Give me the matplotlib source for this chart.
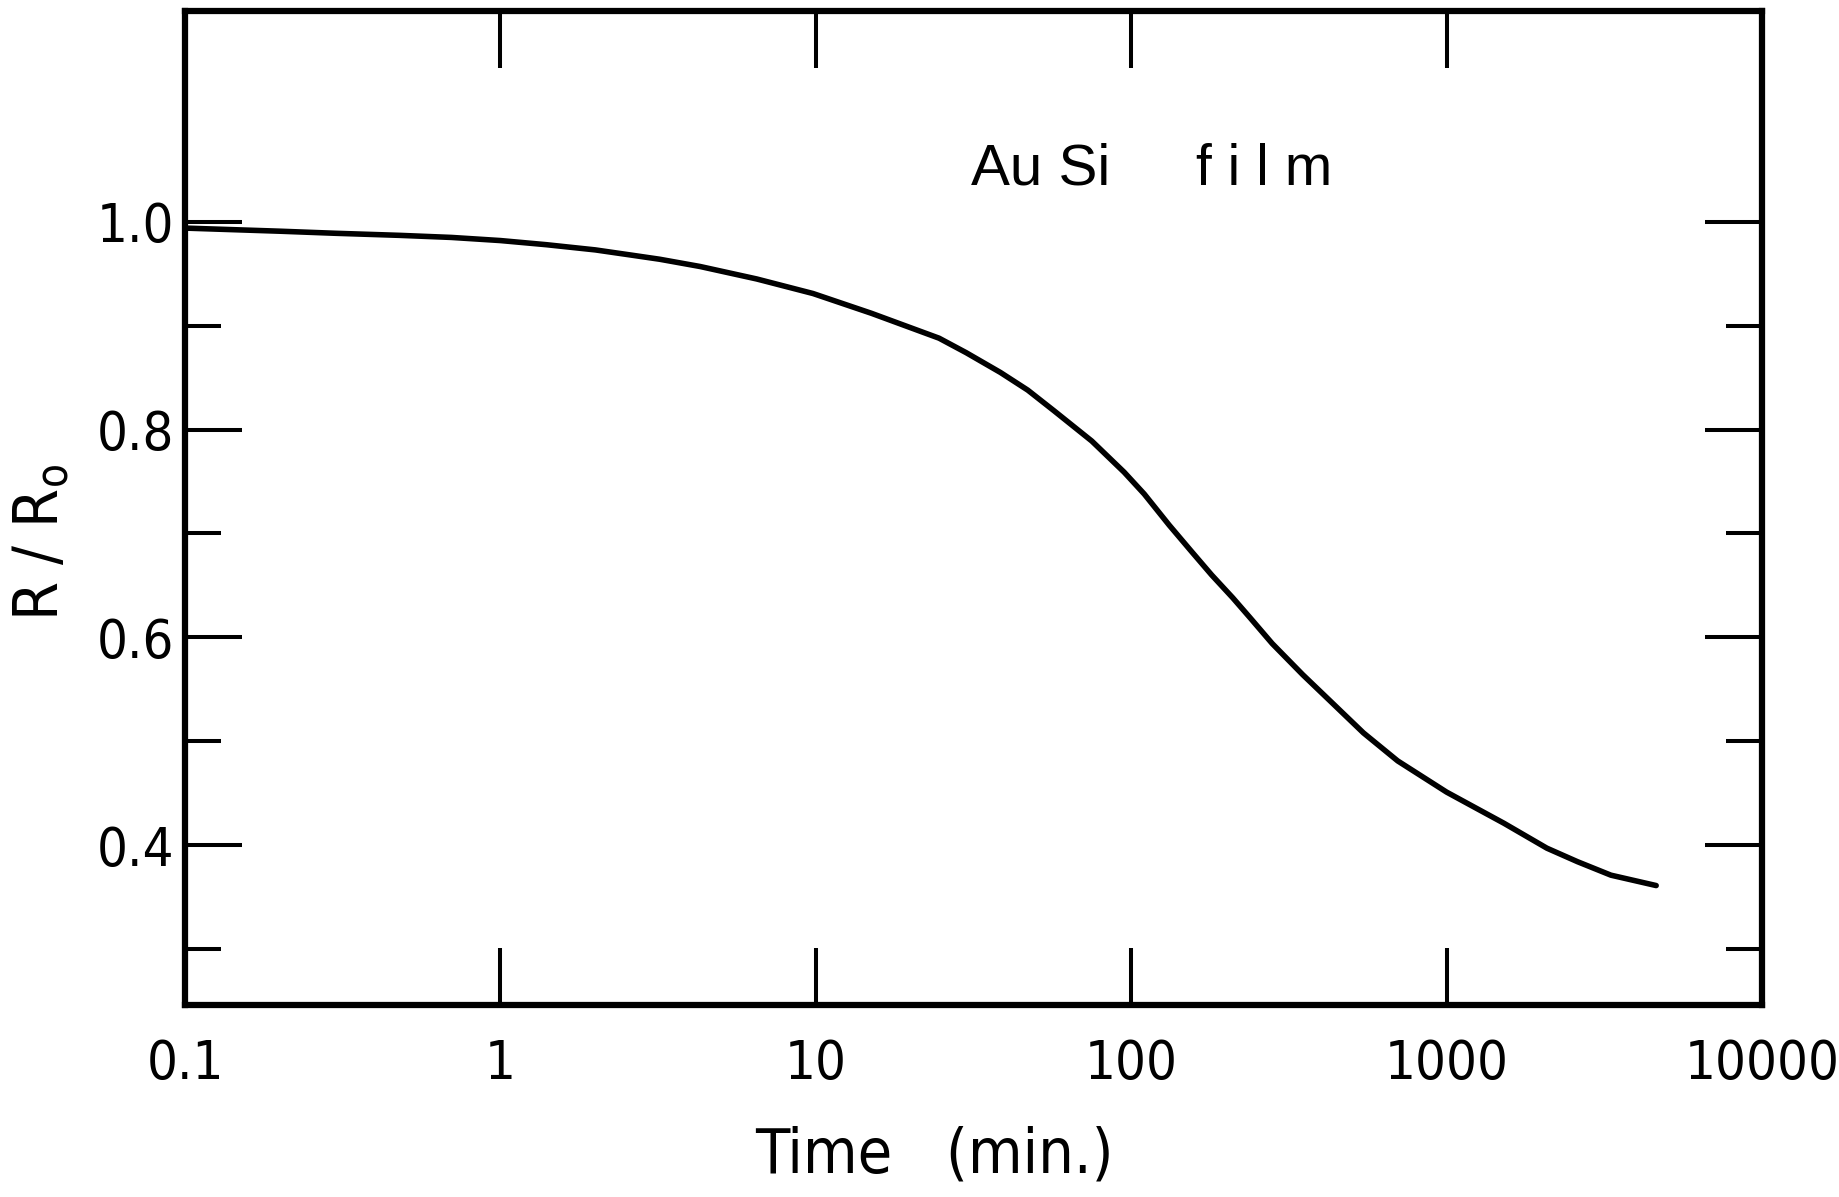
import matplotlib
matplotlib.use('Agg')
import matplotlib.pyplot as plt
from matplotlib import font_manager

# R/R0 of the AuSi film against annealing time
time_min = [0.1, 0.2, 0.3, 0.48, 0.7, 1, 1.4, 2, 2.6, 3.2, 4.3, 6.5, 9.8, 15,
            24.6, 30, 38.5, 47, 57, 75, 95, 110, 132, 155, 180, 210, 238, 280,
            350, 430, 545, 700, 1000, 1250, 1520, 2080, 2600, 3320, 4620]
r_ratio = [0.994, 0.991, 0.989, 0.987, 0.985, 0.982, 0.978, 0.973, 0.968, 0.964,
           0.957, 0.945, 0.931, 0.912, 0.888, 0.874, 0.855, 0.838, 0.818, 0.789,
           0.759, 0.738, 0.708, 0.683, 0.660, 0.638, 0.619, 0.594, 0.564, 0.538,
           0.508, 0.481, 0.451, 0.435, 0.421, 0.397, 0.384, 0.371, 0.361]

x_ticks = [0.1, 1, 10, 100, 1000, 10000]
x_labels = ['0.1', '1', '10', '100', '1000', '10000']
y_major = [0.4, 0.6, 0.8, 1.0]
y_labels = ['0.4', '0.6', '0.8', '1.0']
y_minor = [0.3, 0.5, 0.7, 0.9]

# narrow lettering if there is a narrow face
names = {f.name for f in font_manager.fontManager.ttflist}
if 'Liberation Sans Narrow' in names:
    narrow = dict(family='Liberation Sans Narrow')
else:
    narrow = dict(family='DejaVu Sans', stretch='condensed')

fig = plt.figure(figsize=(18.39, 11.97), dpi=100)
ax = fig.add_axes([0.1006, 0.1604, 0.8575, 0.8304])

ax.plot(time_min, r_ratio, color='black', lw=4.0, solid_capstyle='round',
        solid_joinstyle='round')

ax.set_xscale('log')
ax.set_xlim(0.1, 10000)
ax.set_ylim(0.246, 1.203)

ax.set_xticks(x_ticks)
ax.set_xticklabels(x_labels)
ax.minorticks_off()
ax.set_yticks(y_major)
ax.set_yticklabels(y_labels)
ax.set_yticks(y_minor, minor=True)

for s in ax.spines.values():
    s.set_linewidth(4.5)

ax.tick_params(axis='both', which='major', direction='in', length=41, width=2.9,
               top=True, right=True, labelsize=39)
ax.tick_params(axis='y', which='minor', direction='in', length=26, width=2.9,
               left=True, right=True)
ax.tick_params(axis='x', which='major', pad=24)
ax.tick_params(axis='y', which='major', pad=8)
for lab in ax.get_xticklabels() + ax.get_yticklabels():
    lab.set(**narrow)

ax.set_xlabel('Time   (min.)', fontsize=45, va='center', **narrow)
ax.xaxis.set_label_coords(0.475, -0.151)
ax.set_ylabel(r'R / R$_\mathregular{o}$', fontsize=45, va='center', **narrow)
ax.yaxis.set_label_coords(-0.0913, 0.465)

ax.text(31, 1.05, 'Au Si', fontsize=42, va='center', ha='left',
        family='Liberation Sans')
ax.text(160, 1.05, 'f i l m', fontsize=41, va='center', ha='left',
        family='Liberation Sans')

fig.savefig('out.png', dpi=100)
